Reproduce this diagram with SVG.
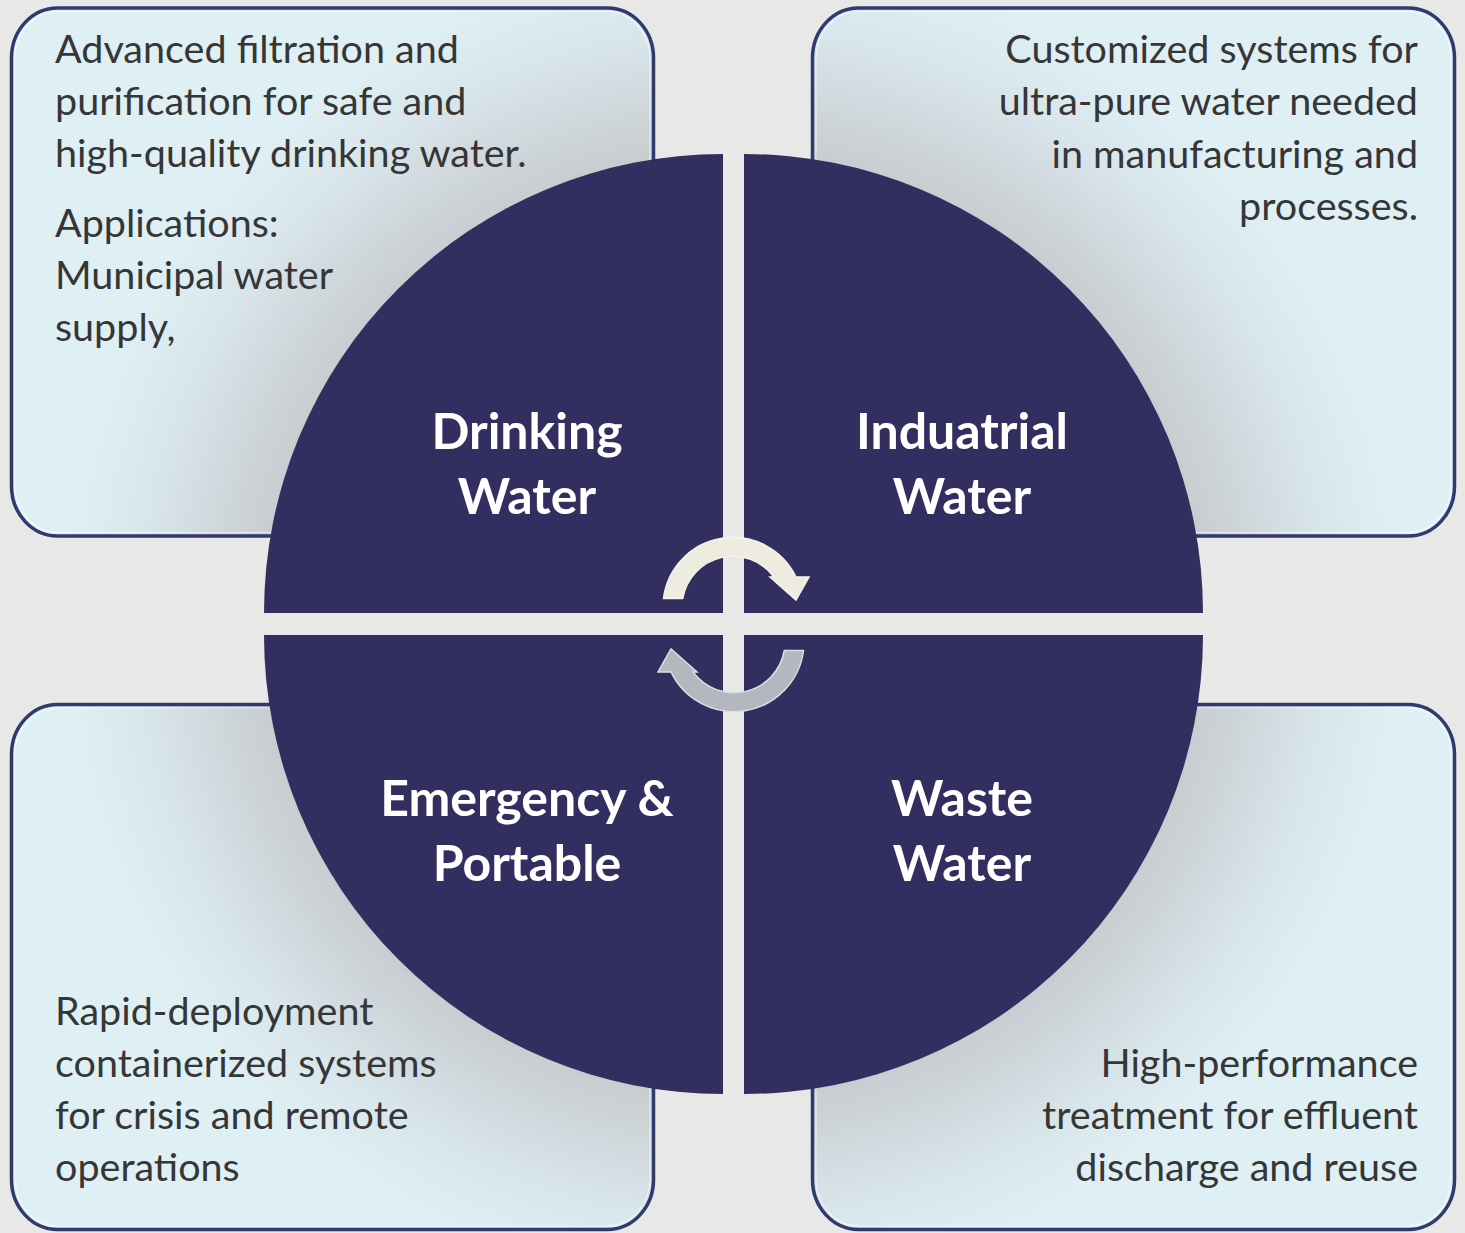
<svg xmlns="http://www.w3.org/2000/svg" width="1465" height="1233" viewBox="0 0 1465 1233">
<defs>
<radialGradient id="shade" gradientUnits="userSpaceOnUse" cx="733.5" cy="624" r="760">
<stop offset="0" stop-color="#c2c6c9"/>
<stop offset="0.6" stop-color="#c6cacd"/>
<stop offset="0.67" stop-color="#cdd4d8"/>
<stop offset="0.79" stop-color="#d9e7ec"/>
<stop offset="0.89" stop-color="#dff0f5"/>
<stop offset="1" stop-color="#dff0f5"/>
</radialGradient>
<style>
.box{fill:url(#shade);stroke:#2f3a6f;stroke-width:3.5}
.boxin{fill:none;stroke:#ffffff;stroke-opacity:0.55;stroke-width:1.2}
.quad{fill:#332e60}
.body{font-family:Lato,"Liberation Sans",sans-serif;font-size:39.5px;fill:#363636}
.end{text-anchor:end}
.head{font-family:Lato,"Liberation Sans",sans-serif;font-size:50px;font-weight:bold;fill:#ffffff;text-anchor:middle}
</style>
</defs>
<rect x="0" y="0" width="1465" height="1233" fill="#e8e8e6"/>

<g id="box-drinking">
<rect class="box" x="11.5" y="8" width="642" height="528" rx="46" ry="50"/>
<rect class="boxin" x="15" y="11.5" width="635" height="521" rx="43" ry="47"/>
<text class="body"><tspan x="55" y="63">Advanced filtration and</tspan><tspan x="55" y="115">purification for safe and</tspan><tspan x="55" y="167">high-quality drinking water.</tspan><tspan x="55" y="237">Applications:</tspan><tspan x="55" y="289">Municipal water</tspan><tspan x="55" y="341">supply,</tspan></text>
</g>

<g id="box-industrial">
<rect class="box" x="812.5" y="8" width="642" height="528" rx="46" ry="50"/>
<rect class="boxin" x="816" y="11.5" width="635" height="521" rx="43" ry="47"/>
<text class="body end"><tspan x="1418" y="63">Customized systems for</tspan><tspan x="1418" y="115">ultra-pure water needed</tspan><tspan x="1418" y="168">in manufacturing and</tspan><tspan x="1418" y="220">processes.</tspan></text>
</g>

<g id="box-emergency">
<rect class="box" x="11.5" y="704.5" width="642" height="525" rx="46" ry="50"/>
<rect class="boxin" x="15" y="708" width="635" height="518" rx="43" ry="47"/>
<text class="body"><tspan x="55" y="1025">Rapid-deployment</tspan><tspan x="55" y="1077">containerized systems</tspan><tspan x="55" y="1129">for crisis and remote</tspan><tspan x="55" y="1181">operations</tspan></text>
</g>

<g id="box-waste">
<rect class="box" x="812.5" y="704.5" width="642" height="525" rx="46" ry="50"/>
<rect class="boxin" x="816" y="708" width="635" height="518" rx="43" ry="47"/>
<text class="body end"><tspan x="1418" y="1077">High-performance</tspan><tspan x="1418" y="1129">treatment for effluent</tspan><tspan x="1418" y="1181">discharge and reuse</tspan></text>
</g>

<g id="node-drinking">
<path class="quad" d="M723,613 L264,613 A459,459 0 0 1 723,154 Z"/>
<text class="head"><tspan x="527" y="449">Drinking</tspan><tspan x="527" y="514">Water</tspan></text>
</g>
<g id="node-industrial">
<path class="quad" d="M744,613 L744,154 A459,459 0 0 1 1203,613 Z"/>
<text class="head"><tspan x="962" y="449">Induatrial</tspan><tspan x="962" y="514">Water</tspan></text>
</g>
<g id="node-emergency">
<path class="quad" d="M723,635 L723,1094 A459,459 0 0 1 264,635 Z"/>
<text class="head"><tspan x="527" y="816">Emergency &amp;</tspan><tspan x="527" y="881">Portable</tspan></text>
</g>
<g id="node-waste">
<path class="quad" d="M744,635 L1203,635 A459,459 0 0 1 744,1094 Z"/>
<text class="head"><tspan x="962" y="816">Waste</tspan><tspan x="962" y="881">Water</tspan></text>
</g>

<g id="connectors">
<path d="M663.5,598.5 A70,70 0 0 1 796,577 L809,577 L796,600 L770,577 L774,577 A51,51 0 0 0 682.7,598.5 Z" fill="#eeecdf" stroke="#f4f3ec" stroke-width="1.5" stroke-linejoin="miter"/>
<path d="M663.5,598.5 A70,70 0 0 1 796,577 L809,577 L796,600 L770,577 L774,577 A51,51 0 0 0 682.7,598.5 Z" transform="rotate(180 733.5 624.5)" fill="#b4b7bd" stroke="#dcdee2" stroke-width="1.5"/>
</g>
</svg>
